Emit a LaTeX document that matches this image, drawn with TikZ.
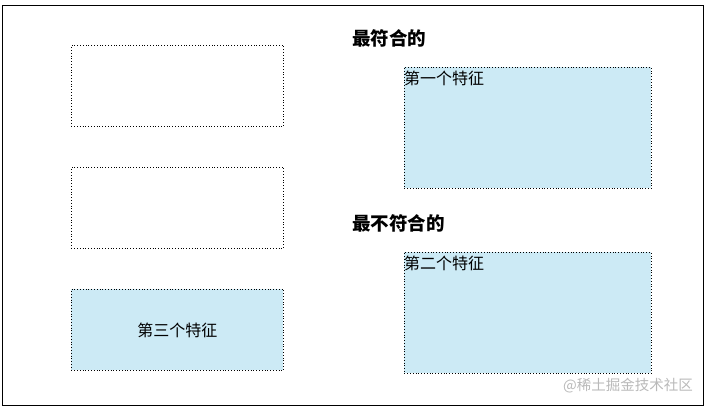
\documentclass[tikz,border=0pt]{standalone}
\usepackage{fontspec}
\newfontfamily\cjk{Noto Sans CJK SC}
\definecolor{featblue}{RGB}{204,234,245}
\definecolor{markgray}{RGB}{185,185,185}

\begin{document}
\begin{tikzpicture}[x=1pt,y=-1pt,
		slot/.style={draw,dotted,line width=0.8pt,inner sep=0pt,anchor=north west,
			minimum width=212pt,minimum height=81pt},
		pick/.style={slot,fill=featblue,minimum width=247pt,minimum height=121pt},
		feat/.style={font=\cjk\fontsize{16}{18}\selectfont},
		tag/.style={feat,anchor=north west,inner sep=0pt,yshift=-4pt},
		head/.style={font=\cjk\bfseries\fontsize{18.5}{20}\selectfont,anchor=west,inner sep=0pt}]
		
		\useasboundingbox (0,0) rectangle (708,408);
		\draw[line width=1pt] (2.5,5) rectangle (703.5,405.5);
		
		% left column
		\node[slot] (s1) at (71,45) {};
		\node[slot] (s2) at (71,167) {};
		\node[slot,fill=featblue,feat] (s3) at (71,289) {第三个特征};
		
		% right column
		\node[head] (best) at (352,38) {最符合的};
		\node[pick,label={[tag]north west:第一个特征}] (p1) at (404,67) {};
		
		\node[head] (worst) at (352,223) {最不符合的};
		\node[pick,label={[tag]north west:第二个特征}] (p2) at (404,252) {};
		
		\node[font=\cjk\fontsize{14.5}{16}\selectfont,text=markgray,anchor=east,inner sep=0pt] (mark) at (693,386) {@稀土掘金技术社区};
		
	\end{tikzpicture}
\end{document}
